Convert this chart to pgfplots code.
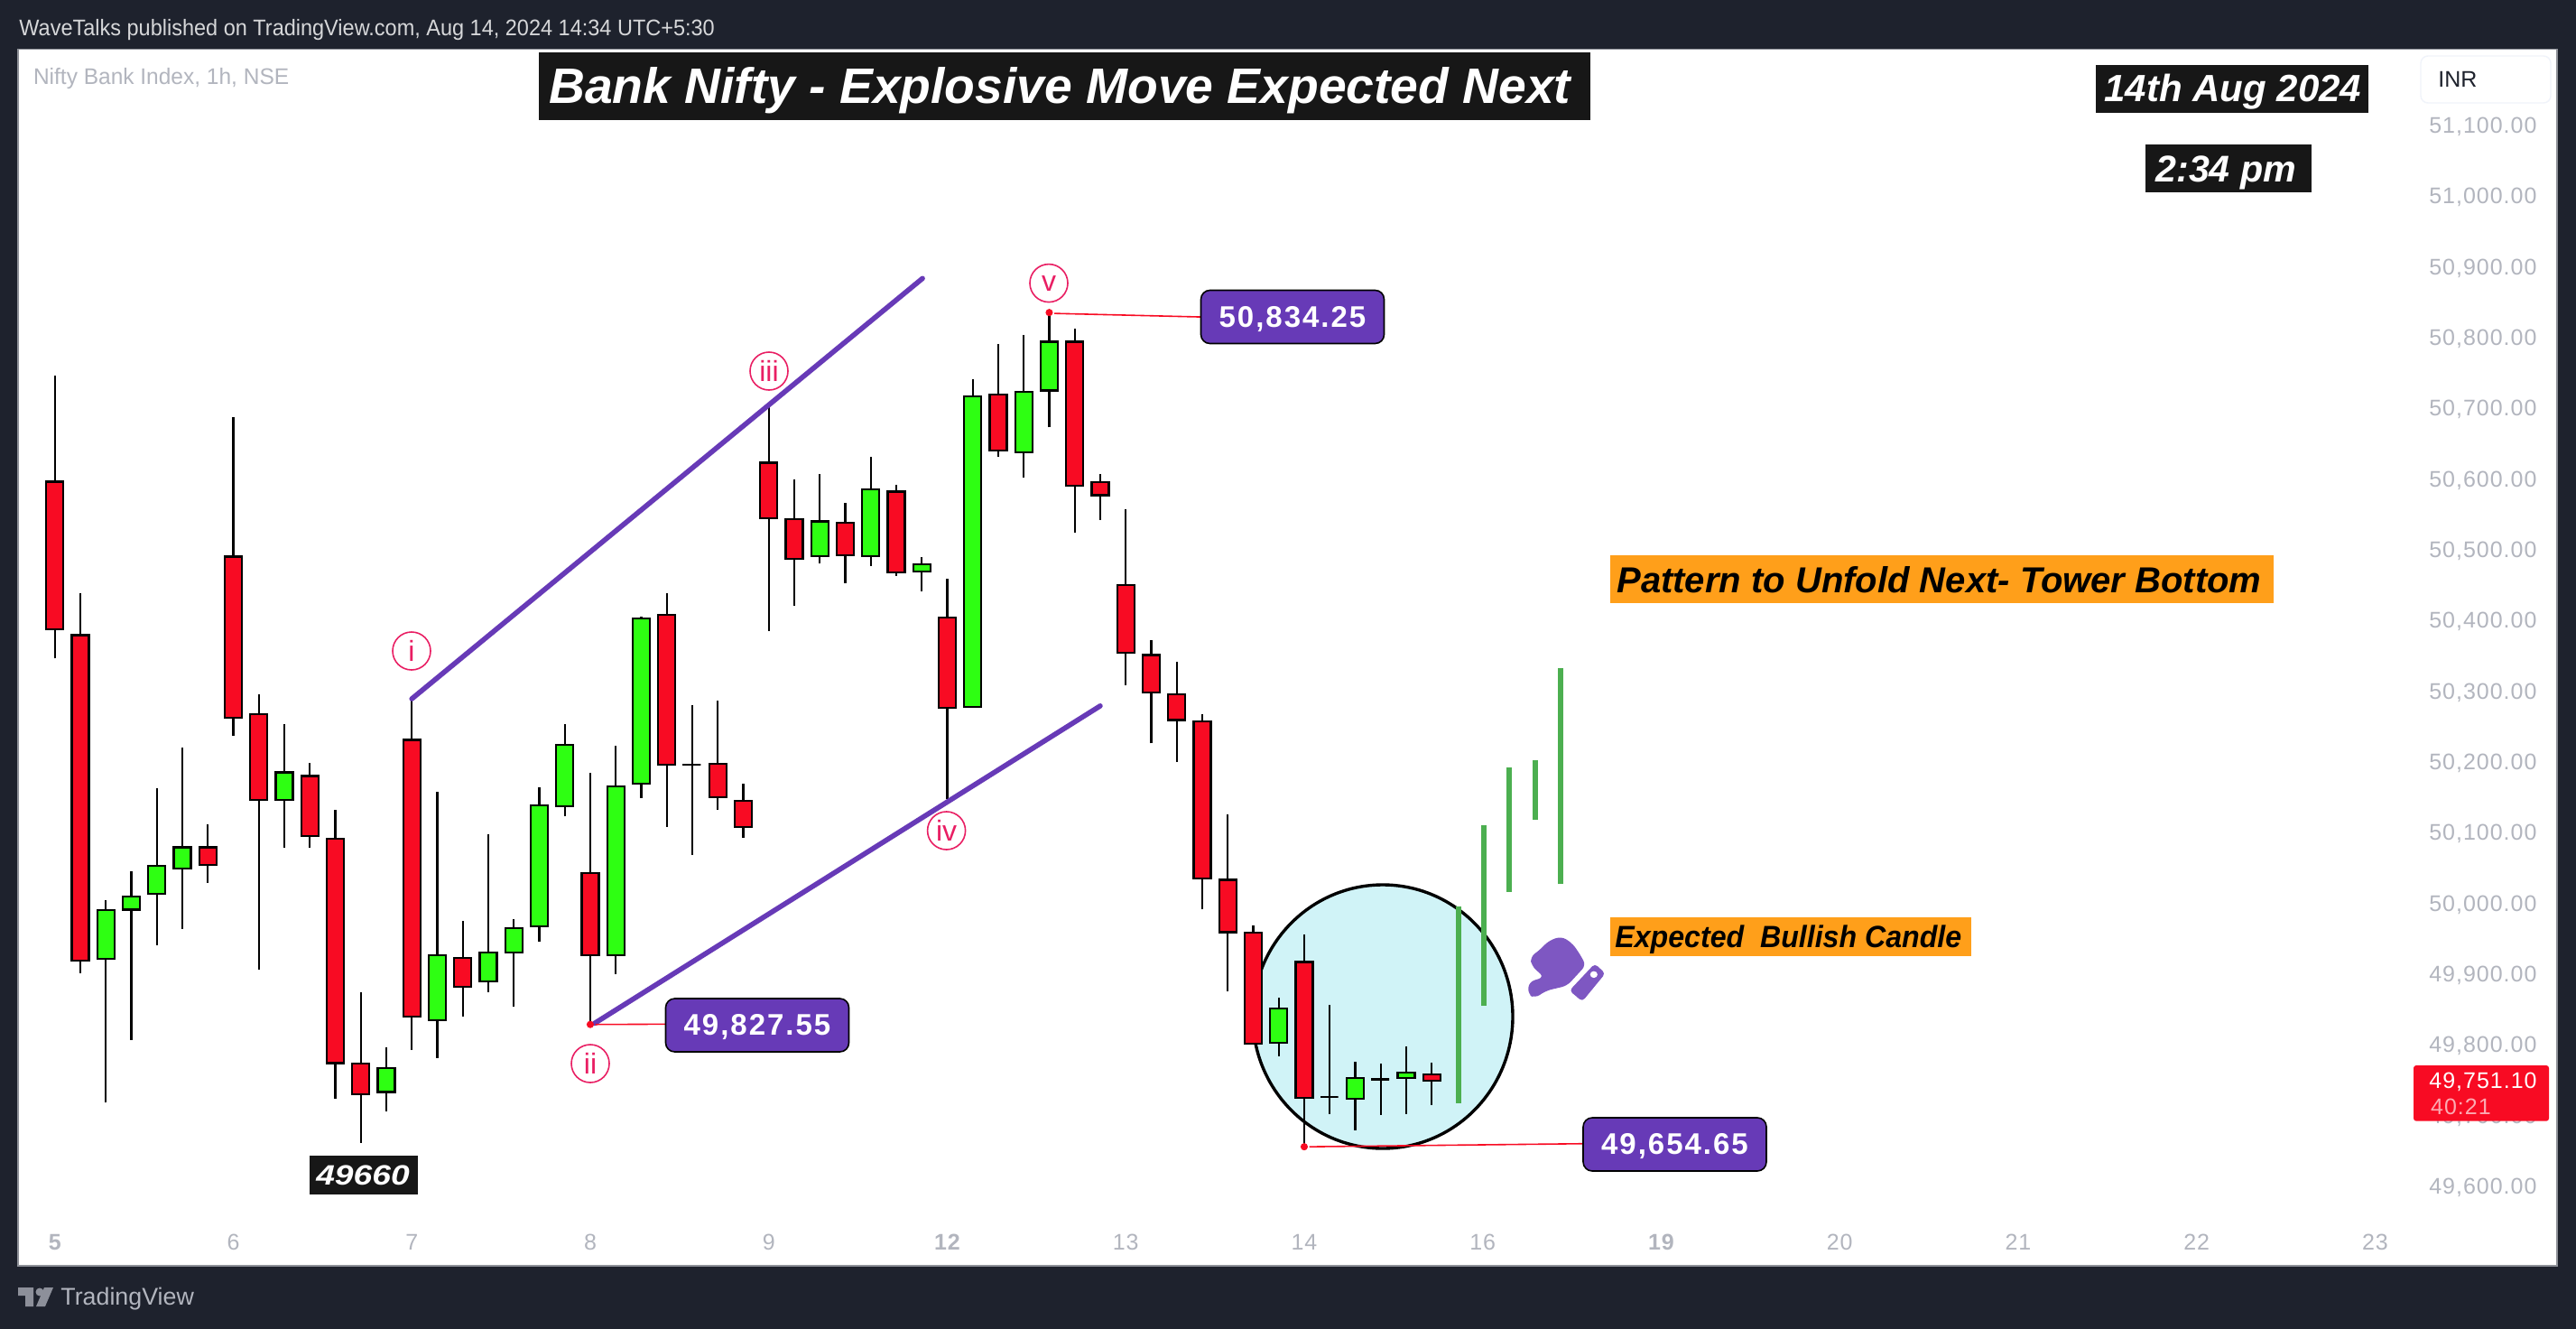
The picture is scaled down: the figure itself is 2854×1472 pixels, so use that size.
\documentclass[border=0pt]{standalone}
\usepackage{pgfplots}
\pgfplotsset{compat=1.18}
\usepackage{graphicx}
\usepackage{fontspec}
\setmainfont{Liberation Sans}
\newfontfamily\ticksf[LetterSpace=4]{Liberation Sans}
\newfontfamily\callf[LetterSpace=6]{Liberation Sans}
\definecolor{bg}{HTML}{1E222D}
\definecolor{tk}{HTML}{B2B5BE}
\definecolor{cr}{HTML}{F80B23}
\definecolor{cg}{HTML}{2EFF12}
\definecolor{pur}{HTML}{673AB7}
\definecolor{pur2}{HTML}{7E57C2}
\definecolor{org}{HTML}{FF9F1A}
\definecolor{blk}{HTML}{171717}
\definecolor{cyn}{HTML}{B2EBF2}
\definecolor{grn}{HTML}{4CAF50}
\definecolor{pnk}{HTML}{E91E63}
\definecolor{inrb}{HTML}{F0F3FA}
\newcommand\fs[1]{\fontsize{#1}{#1}\selectfont}
\newcommand\cd[6]{%
  \pgfmathsetmacro\xl{#1-.335}\pgfmathsetmacro\xr{#1+.335}%
  \addplot[black,line width=1.05pt] coordinates {(#1,#6)(#1,#3)};
  \addplot[fill=#2,draw=black,line width=1.1pt,line cap=rect] coordinates {(\xl,#5)(\xr,#5)(\xr,#4)(\xl,#4)(\xl,#5)};
}
\newcommand\ring[3]{\draw[pnk,line width=.8pt] (#1,#2) circle [radius=21];\node[pnk,inner sep=0] at (#1,#2) {\fs{16}#3};}
\newcommand\callout[3]{\draw[black,fill=pur,line width=.8pt,rounded corners=5pt] (#1-101.5,#2-29.5) rectangle (#1+101.5,#2+29.5);\node[white,inner sep=0] at (#1,#2+2.5) {\fs{16.5}\callf\bfseries #3};}
\begin{document}
\begin{tikzpicture}
\begin{scope}[x=.5pt,y=-.5pt]
\fill[bg] (0,0) rectangle (2854,1472);
\useasboundingbox (0,0) rectangle (2854,1472);
\fill[white] (20,54.5) rectangle (2833,1402);
\draw[black,fill=cyn,fill opacity=.6,line width=1.7pt] (1532,1126) ellipse [x radius=144,y radius=146];
\end{scope}
\begin{axis}[
  at={(10pt,-27.25pt)}, anchor=north west,
  scale only axis, width=1406.5pt, height=673.75pt,
  xmin=-1.441, xmax=98.13, ymin=49486.3, ymax=51206.6,
  axis line style={color=tk!80!black,line width=.6pt},
  major tick length=0pt, scaled y ticks=false, scaled x ticks=false,
  xtick={0,7,14,21,28,35,42,49,56,63,70,77,84,91},
  xticklabels={\bfseries 5,6,7,8,9,\bfseries 12,13,14,16,\bfseries 19,20,21,22,23},
  ytick={49600,49700,49800,49900,50000,50100,50200,50300,50400,50500,50600,50700,50800,50900,51000,51100},
  yticklabels={{49,600.00},{49,700.00},{49,800.00},{49,900.00},{50,000.00},{50,100.00},{50,200.00},{50,300.00},{50,400.00},{50,500.00},{50,600.00},{50,700.00},{50,800.00},{50,900.00},{51,000.00},{51,100.00}},
  ytick pos=right, xtick pos=bottom,
  yticklabel pos=right,
  yticklabel style={anchor=east,inner sep=0pt,xshift=-11pt,yshift=-1.2pt,font=\fs{12.5}\ticksf,text=tk},
  xticklabel style={anchor=center,inner sep=0pt,yshift=13.2pt,font=\fs{12.5}\ticksf,text=tk},
]
% projected candles
\addplot[grn,line width=3pt] coordinates {(55.05,49716.6)(55.05,49994.5)};
\addplot[grn,line width=3pt] coordinates {(56.05,49854)(56.05,50109)};
\addplot[grn,line width=3pt] coordinates {(57.05,50015)(57.05,50191)};
\addplot[grn,line width=3pt] coordinates {(58.05,50117)(58.05,50201)};
\addplot[grn,line width=3pt] coordinates {(59.05,50026)(59.05,50332)};
% candles: index, colour, high, body top, body bottom, low
\cd{0}{cr}{50745}{50595}{50386}{50345}
\cd{1}{cr}{50438}{50378}{49918}{49900}
\cd{2}{cg}{50003}{49989}{49920}{49717}
\cd{3}{cg}{50044}{50008}{49990}{49806}
\cd{4}{cg}{50162}{50052}{50012}{49940}
\cd{5}{cg}{50219}{50078}{50048}{49963}
\cd{6}{cr}{50110}{50078}{50053}{50028}
\cd{7}{cr}{50686}{50489}{50261}{50236}
\cd{8}{cr}{50294}{50266}{50145}{49905}
\cd{9}{cg}{50252}{50184}{50145}{50078}
\cd{10}{cr}{50197}{50179}{50094}{50077}
\cd{11}{cr}{50131}{50090}{49773}{49723}
\cd{12}{cr}{49873}{49772}{49729}{49660}
\cd{13}{cg}{49795}{49766}{49732}{49705}
\cd{14}{cr}{50288}{50230}{49839}{49792}
\cd{15}{cg}{50156}{49925}{49834}{49780}
\cd{16}{cr}{49974}{49922}{49881}{49839}
\cd{17}{cg}{50096}{49929}{49888}{49873}
\cd{18}{cg}{49977}{49964}{49929}{49853}
\cd{19}{cg}{50163}{50137}{49966}{49944}
\cd{20}{cg}{50252}{50223}{50136}{50122}
\cd{21}{cr}{50183}{50042}{49925}{49827.55}
\cd{22}{cg}{50222}{50164}{49925}{49899}
\cd{23}{cg}{50404}{50402}{50168}{50148}
\cd{24}{cr}{50438}{50407}{50195}{50107}
\cd{25}{cr}{50279}{50195}{50195}{50067}
\cd{26}{cr}{50285}{50196}{50149}{50131}
\cd{27}{cr}{50168}{50144}{50107}{50092}
\cd{28}{cr}{50705}{50622}{50543}{50384}
\cd{29}{cr}{50598}{50542}{50486}{50419}
\cd{30}{cg}{50606}{50539}{50490}{50479}
\cd{31}{cr}{50565}{50537}{50491}{50452}
\cd{32}{cg}{50630}{50584}{50490}{50476}
\cd{33}{cr}{50590}{50581}{50467}{50462}
\cd{34}{cg}{50488}{50478}{50468}{50440}
\cd{35}{cr}{50458}{50403}{50275}{50146}
\cd{36}{cg}{50740}{50716}{50277}{50277}
\cd{37}{cr}{50790}{50718}{50639}{50630}
\cd{38}{cg}{50802}{50722}{50637}{50601}
\cd{39}{cg}{50834.25}{50793}{50724}{50672}
\cd{40}{cr}{50811}{50793}{50589}{50523}
\cd{41}{cr}{50606}{50594}{50576}{50541}
\cd{42}{cr}{50556}{50449}{50353}{50307}
\cd{43}{cr}{50371}{50350}{50297}{50225}
\cd{44}{cr}{50341}{50294}{50258}{50199}
\cd{45}{cr}{50266}{50256}{50034}{49990}
\cd{46}{cr}{50125}{50032}{49958}{49875}
\cd{47}{cr}{49967}{49957}{49800}{49800}
\cd{48}{cg}{49865}{49850}{49802}{49783}
\cd{49}{cr}{49955}{49916}{49724}{49654.65}
\cd{50}{cr}{49855}{49725}{49725}{49701}
\cd{51}{cg}{49775}{49752}{49722}{49678}
\cd{52}{cr}{49772}{49750}{49750}{49700}
\cd{53}{cg}{49797}{49760}{49752}{49701}
\cd{54}{cr}{49774}{49757}{49748}{49714}
% trend lines
\addplot[pur,line width=2.8pt,line cap=round] coordinates {(14,50288)(34.03,50882.5)};
\addplot[pur,line width=2.8pt,line cap=round] coordinates {(21.16,49829)(41,50278)};
% callout leaders and pivots
\addplot[cr,line width=.8pt] coordinates {(39.2,50833)(44.93,50828)};
\addplot[cr,line width=.8pt] coordinates {(21.2,49827.55)(23.97,49828)};
\addplot[cr,line width=.8pt] coordinates {(49.2,49654.65)(59.95,49659)};
\addplot[only marks,mark=*,mark size=1.8pt,cr] coordinates {(39,50834.25)(21,49827.55)(49,49654.65)};
\end{axis}
\begin{scope}[x=.5pt,y=-.5pt]
% header / footer
\node[anchor=west,inner sep=0,text=white!82!bg] at (21,33.5) {\scalebox{.94}[1]{\fs{12.5}WaveTalks published on TradingView.com, Aug 14, 2024 14:34 UTC+5:30}};
\node[anchor=west,inner sep=0,text=tk] at (36.6,87.5) {\scalebox{.98}[1]{\fs{12.5}Nifty Bank Index, 1h, NSE}};
\fill[tk!75!bg] (20,1426) -- (37,1426) -- (37,1447) -- (28,1447) -- (28,1435) -- (20,1435) -- cycle;
\fill[tk!75!bg] (44,1431) circle [radius=4.5];
\fill[tk!75!bg] (49,1426) -- (59,1426) -- (50,1447) -- (40,1447) -- cycle;
\node[anchor=west,inner sep=0,text=tk] at (67,1438.5) {\fs{13.4}TradingView};
% INR
\draw[inrb,line width=.7pt,rounded corners=4pt,fill=white] (2682,62) rectangle (2826,114);
\node[anchor=west,inner sep=0,text=bg] at (2701,88) {\fs{12.5}INR};
% last price
\fill[cr,rounded corners=1.5pt] (2674,1180) rectangle (2824,1241.7);
\node[anchor=east,inner sep=0,text=white] at (2811,1198) {\fs{12.5}\ticksf 49,751.10};
\node[anchor=west,inner sep=0,text=white!65!cr] at (2692.7,1226) {\fs{12.5}\ticksf 40:21};
% titles
\fill[blk] (597,58) rectangle (1762,132.6);
\node[anchor=west,inner sep=0,text=white] at (608,100) {\fs{27.6}\bfseries\itshape Bank Nifty - Explosive Move Expected Next};
\fill[blk] (2322,72) rectangle (2624,124.7);
\node[anchor=west,inner sep=0,text=white] at (2331,102) {\fs{21}\bfseries\itshape 14th Aug 2024};
\fill[blk] (2377,160) rectangle (2561,212.7);
\node[anchor=west,inner sep=0,text=white] at (2388,191) {\fs{20.6}\bfseries\itshape 2:34 pm};
\fill[org] (1784,615) rectangle (2519,668);
\node[anchor=west,inner sep=0,text=black] at (1791,642.5) {\fs{20}\bfseries\itshape Pattern to Unfold Next- Tower Bottom};
\fill[org] (1784,1016) rectangle (2184,1058.6);
\node[anchor=west,inner sep=0,text=black] at (1789,1040.5) {\scalebox{.945}[1]{\fs{17}\bfseries\itshape Expected\ \ Bullish Candle}};
\fill[blk] (343,1280) rectangle (463,1323);
\node[anchor=center,inner sep=0,text=white] at (402,1301.5) {\scalebox{1.2}[1]{\fs{15.5}\bfseries\itshape 49660}};
% callouts
\callout{1432}{351}{50,834.25}
\callout{839}{1135.5}{49,827.55}
\callout{1855.5}{1267.5}{49,654.65}
% wave rings
\ring{456}{721}{i}
\ring{654}{1178}{ii}
\ring{852}{411}{iii}
\ring{1048.6}{920}{iv}
\ring{1162}{313.6}{v}
\end{scope}
% thumb icon
\begin{scope}[shift={(650pt,-350pt)},x=.2551pt,y=-.2073pt]
\fill[pur2,rounded corners=3pt] (770,968) -- (772,935) -- (805,922) -- (778,892) -- (775,868) -- (795,850) -- (815,825) -- (842,813) -- (865,830) -- (880,855) -- (896,890) -- (855,945) -- (810,958) -- (785,978) -- cycle;
\fill[pur2,rounded corners=2pt] (860,958) -- (915,886) -- (938,912) -- (888,987) -- cycle;
\fill[white] (913,915) ellipse [x radius=8,y radius=9];
\end{scope}
\end{tikzpicture}
\end{document}
